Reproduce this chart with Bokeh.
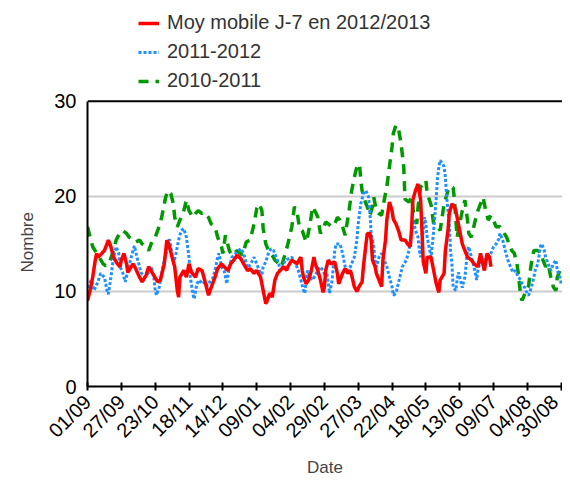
from bokeh.plotting import figure
from bokeh.models import FixedTicker, Legend, LegendItem, Span, Title
from bokeh.embed import file_html
from bokeh.resources import INLINE
import math

# x = days since 01/09
tick_days = [0, 26, 52, 78, 104, 130, 156, 182, 208, 234, 260, 286, 312, 338, 364]
tick_labels = ["01/09", "27/09", "23/10", "18/11", "14/12", "09/01", "04/02", "29/02",
               "27/03", "22/04", "18/05", "13/06", "09/07", "04/08", "30/08"]

red_days = [0, 2, 4, 6, 7, 8, 11, 13, 16, 18, 20, 23, 25, 26, 28, 30, 31, 35, 37, 40,
            42, 45, 47, 50, 54, 56, 59, 61, 63, 65, 67, 69, 70, 71, 74, 76, 78, 80, 83, 85,
            88, 90, 93, 95, 98, 100, 103, 105, 108, 110, 113, 115, 118, 120, 123, 125, 128, 130, 133, 135,
            137, 138, 140, 142, 144, 146, 148, 151, 153, 154, 157, 159, 161, 163, 164, 165, 166, 168, 170, 172,
            174, 175, 177, 179, 181, 182, 183, 185, 187, 190, 192, 193, 196, 198, 200, 202, 203, 205, 207, 209,
            211, 212, 214, 215, 217, 218, 219, 221, 222, 224, 226, 227, 229, 230, 232, 234, 235, 237, 239, 241,
            244, 246, 248, 249, 250, 252, 254, 256, 257, 258, 260, 261, 264, 266, 268, 270, 271, 274, 275, 277,
            278, 280, 282, 283, 285, 287, 288, 290, 292, 295, 297, 300, 302, 303, 305, 307, 309, 310]
red_vals = [9.0, 10.1, 11.5, 13.3, 14.0, 13.6, 14.0, 14.3, 15.4, 14.7, 13.6, 12.9, 12.6, 13.3, 14.0, 12.9, 12.0, 12.9, 12.4, 11.5,
            11.0, 11.7, 12.6, 11.9, 11.0, 11.2, 12.9, 15.4, 14.7, 13.6, 12.6, 10.1, 9.4, 11.5, 12.2, 11.5, 12.9, 12.0, 11.5, 12.4,
            12.2, 11.2, 9.6, 10.4, 11.5, 12.4, 12.9, 12.6, 12.2, 12.9, 13.4, 13.8, 13.4, 12.9, 12.2, 12.4, 11.9, 12.2, 11.5, 10.1,
            8.7, 9.0, 9.8, 9.4, 11.2, 11.9, 12.2, 12.6, 12.2, 12.6, 13.3, 13.1, 12.9, 13.4, 13.6, 12.2, 11.5, 10.8, 11.2, 12.2,
            13.6, 12.9, 12.2, 11.2, 9.9, 10.4, 12.2, 13.3, 12.9, 13.1, 11.9, 10.8, 11.9, 12.4, 11.9, 12.2, 11.7, 10.5, 10.0, 10.6,
            11.0, 12.6, 15.0, 16.1, 16.1, 15.4, 13.3, 12.6, 11.9, 11.2, 10.5, 13.3, 15.4, 17.5, 19.4, 18.5, 17.6, 17.1, 16.4, 15.4,
            15.4, 15.0, 14.7, 16.4, 19.6, 20.6, 21.3, 19.6, 16.4, 13.1, 11.9, 13.6, 13.6, 12.2, 10.8, 9.9, 11.2, 11.9, 14.3, 16.4,
            18.2, 19.2, 18.9, 18.5, 17.1, 15.7, 15.0, 14.3, 13.6, 13.3, 12.9, 12.6, 14.0, 13.3, 12.2, 14.0, 13.6, 12.6]

blue_days = [0, 3, 5, 8, 10, 13, 15, 16, 18, 20, 22, 24, 25, 27, 29, 31, 33, 35, 36, 38,
             40, 41, 44, 46, 49, 51, 52, 53, 55, 57, 59, 61, 63, 64, 66, 68, 70, 72, 74, 76,
             78, 79, 81, 82, 84, 86, 88, 90, 92, 94, 96, 98, 100, 101, 103, 105, 107, 109, 111, 114,
             116, 118, 120, 122, 123, 124, 127, 128, 130, 132, 134, 135, 137, 139, 141, 143, 145, 147, 148, 150,
             152, 154, 157, 158, 160, 162, 164, 166, 167, 168, 169, 171, 173, 175, 177, 179, 181, 183, 184, 186,
             188, 190, 191, 194, 196, 198, 200, 202, 205, 207, 208, 210, 212, 214, 216, 217, 218, 220, 221, 222,
             224, 226, 228, 230, 232, 234, 235, 237, 240, 242, 245, 247, 249, 250, 251, 252, 254, 255, 256, 258,
             259, 260, 261, 263, 264, 265, 266, 268, 269, 270, 271, 273, 274, 275, 276, 278, 279, 280, 281, 283,
             284, 285, 286, 288, 289, 290, 292, 293, 295, 297, 298, 299, 300, 302, 303, 305, 307, 308, 310, 312,
             314, 316, 317, 319, 321, 323, 325, 327, 329, 331, 333, 334, 336, 338, 339, 341, 343, 344, 346, 348,
             349, 351, 352, 354, 356, 358, 360, 361, 363, 364]
blue_vals = [10.4, 11.2, 10.1, 11.0, 11.9, 11.5, 10.1, 9.7, 11.5, 13.6, 14.7, 14.0, 12.6, 12.0, 11.0, 12.2, 13.3, 14.3, 14.8, 13.6,
             12.6, 12.0, 11.5, 11.7, 12.6, 11.5, 10.1, 9.6, 10.4, 11.9, 13.3, 14.3, 15.5, 14.7, 12.9, 14.0, 15.4, 16.4, 16.6, 15.7,
             13.6, 11.5, 9.7, 9.2, 10.8, 11.2, 10.8, 11.0, 10.6, 11.0, 11.3, 12.2, 13.6, 14.0, 12.6, 12.2, 10.8, 12.6, 13.6, 14.0,
             14.3, 14.5, 14.0, 12.9, 12.2, 12.6, 13.3, 13.6, 12.9, 12.2, 11.8, 12.6, 13.1, 14.0, 14.5, 14.3, 13.6, 12.9, 12.2, 12.6,
             13.3, 13.4, 13.6, 13.3, 12.9, 12.2, 11.2, 10.1, 9.8, 11.2, 12.2, 11.5, 11.2, 11.7, 12.2, 12.6, 12.2, 11.5, 11.9, 9.8,
             11.2, 14.3, 15.0, 15.0, 14.0, 12.6, 12.2, 12.6, 13.6, 15.4, 17.1, 19.2, 20.3, 20.6, 19.9, 18.2, 16.1, 14.7, 13.3, 12.6,
             13.6, 14.0, 13.3, 12.6, 11.5, 10.5, 9.6, 9.8, 11.5, 12.6, 13.3, 14.3, 16.4, 17.5, 17.1, 16.4, 15.7, 14.3, 13.6, 16.4,
             17.8, 17.1, 15.7, 14.3, 13.6, 15.0, 16.4, 19.9, 22.0, 23.1, 23.8, 23.4, 23.1, 22.0, 19.9, 17.1, 14.3, 12.9, 10.4, 10.1,
             11.2, 12.0, 11.5, 10.4, 11.0, 11.5, 14.3, 14.7, 13.6, 12.6, 11.9, 11.2, 12.2, 13.3, 12.9, 13.6, 13.3, 13.6, 14.0, 14.7,
             15.0, 15.5, 16.1, 15.4, 14.3, 13.3, 12.6, 12.0, 12.2, 11.5, 11.2, 10.8, 10.4, 9.7, 9.6, 10.4, 11.5, 12.2, 12.9, 14.7,
             15.0, 14.3, 13.6, 12.9, 12.2, 12.9, 13.3, 12.2, 11.5, 10.8]

green_days = [0, 2, 4, 7, 9, 12, 14, 17, 20, 22, 25, 27, 30, 32, 35, 37, 40, 42, 45, 47,
              50, 52, 55, 57, 60, 62, 64, 66, 67, 69, 71, 74, 76, 78, 81, 83, 85, 88, 90, 93,
              95, 98, 100, 103, 104, 106, 109, 111, 115, 119, 122, 125, 128, 130, 132, 134, 135, 137, 139, 142,
              144, 147, 149, 152, 154, 157, 159, 161, 163, 165, 168, 169, 171, 173, 175, 177, 179, 181, 183, 186,
              188, 190, 192, 194, 196, 198, 199, 201, 203, 205, 207, 209, 210, 211, 213, 215, 217, 219, 220, 222,
              224, 226, 228, 230, 232, 234, 235, 237, 239, 241, 243, 244, 247, 249, 251, 253, 254, 256, 258, 260,
              261, 264, 266, 269, 271, 274, 277, 279, 281, 282, 284, 286, 288, 290, 292, 293, 295, 298, 300, 302,
              304, 306, 308, 310, 312, 314, 317, 319, 322, 324, 326, 328, 330, 331, 333, 334, 337, 339, 340, 341,
              343, 346, 348, 350, 352, 354, 356, 358, 360, 361, 363]
green_vals = [16.8, 15.7, 14.7, 14.0, 13.6, 12.9, 12.7, 13.1, 14.3, 15.4, 16.2, 16.4, 16.1, 15.7, 15.5, 15.2, 15.4, 15.0, 14.7, 14.3,
              15.4, 15.7, 16.8, 17.8, 19.9, 20.6, 20.3, 19.2, 17.8, 16.8, 17.5, 18.5, 19.6, 18.5, 17.8, 18.2, 18.5, 18.2, 18.3, 17.8,
              17.1, 16.8, 15.7, 14.7, 14.0, 15.9, 14.3, 13.8, 14.3, 13.8, 15.2, 15.4, 17.1, 18.7, 19.2, 18.5, 16.6, 15.0, 14.3, 13.8,
              13.3, 12.9, 12.6, 14.0, 15.0, 16.8, 18.9, 18.4, 16.6, 16.4, 15.2, 15.7, 17.1, 18.9, 18.4, 17.8, 16.1, 16.6, 17.3, 17.0,
              16.8, 17.1, 17.8, 17.5, 16.8, 15.9, 16.8, 18.5, 20.6, 22.0, 23.1, 23.4, 21.7, 20.6, 19.6, 18.9, 18.0, 18.9, 19.9, 18.5,
              18.2, 18.0, 19.6, 21.0, 23.1, 25.2, 26.6, 27.5, 27.1, 25.5, 23.1, 19.7, 19.4, 19.9, 17.8, 17.1, 18.9, 21.0, 21.3, 21.7,
              20.3, 19.1, 17.1, 16.8, 16.4, 19.2, 20.6, 21.1, 20.9, 19.6, 15.7, 17.1, 18.5, 19.6, 17.5, 16.1, 15.7, 17.5, 18.5, 19.2,
              19.9, 18.5, 17.5, 18.0, 17.5, 16.8, 16.8, 16.4, 15.7, 15.0, 14.3, 14.0, 12.9, 11.9, 9.4, 9.05, 10.1, 10.6, 11.9, 12.9,
              14.3, 14.3, 14.1, 13.3, 12.6, 12.9, 11.5, 10.45, 10.1, 11.5, 12.2]

y_ticks = [0, 10, 20, 30]
y_max = 30
series_labels = ["Moy mobile J-7 en 2012/2013", "2011-2012", "2010-2011"]

FONT = "Liberation Sans"

# frame spans from the top of the canvas to the x axis; the 0-30 scale occupies
# its lower part, leaving the upper part for the legend
p = figure(width=562, height=480, x_range=(0, 365), y_range=(0, 40.6),
           output_backend="svg", toolbar_location=None, title=None,
           min_border_left=86, min_border_right=0, min_border_top=0, min_border_bottom=94,
           background_fill_color="white", border_fill_color="white")
p.outline_line_color = None

g = p.line(green_days, green_vals, line_color="#009900", line_width=3.5, line_dash="10 7")
b = p.line(blue_days, blue_vals, line_color="#1e90ff", line_width=3, line_dash="3 2")
r = p.line(red_days, red_vals, line_color="#ff0000", line_width=3.5)

# axes
xa = p.xaxis[0]
xa.ticker = FixedTicker(ticks=tick_days)
xa.major_label_overrides = {d: l for d, l in zip(tick_days, tick_labels)}
xa.major_label_orientation = math.pi / 4
xa.minor_tick_line_color = None
xa.major_tick_in = 4
xa.major_tick_out = 4
xa.major_tick_line_color = "black"
xa.major_tick_line_width = 2
xa.axis_line_color = "black"
xa.axis_line_width = 2
xa.major_label_text_font = FONT
xa.major_label_text_font_size = "20px"
xa.major_label_text_color = "black"
xa.major_label_standoff = 8
xa.axis_label = "Date"
xa.axis_label_text_font = FONT
xa.axis_label_text_font_size = "17px"
xa.axis_label_text_font_style = "normal"
xa.axis_label_text_color = "#444444"
xa.axis_label_standoff = 6

ya = p.yaxis[0]
ya.ticker = FixedTicker(ticks=y_ticks)
ya.bounds = (0, y_max)
ya.minor_tick_line_color = None
ya.major_tick_in = 0
ya.major_tick_out = 0
ya.axis_line_color = "black"
ya.axis_line_width = 2
ya.major_label_text_font = FONT
ya.major_label_text_font_size = "20px"
ya.major_label_text_color = "black"
ya.major_label_standoff = 11

# y axis title, centred on the 0-30 part of the axis
ytitle = Title(text="Nombre", align="left", offset=114, standoff=30,
               text_font=FONT, text_font_size="17px", text_font_style="normal",
               text_color="#444444")
p.add_layout(ytitle, "left")

p.add_layout(Span(location=y_max, dimension="width", line_color="black", line_width=2))

p.xgrid.visible = False
p.ygrid.ticker = FixedTicker(ticks=[10, 20])
p.ygrid.grid_line_color = "#cccccc"
p.ygrid.grid_line_width = 2

legend = Legend(items=[LegendItem(label=series_labels[0], renderers=[r]),
                       LegendItem(label=series_labels[1], renderers=[b]),
                       LegendItem(label=series_labels[2], renderers=[g])],
                location=(51, 294), margin=0, padding=0, spacing=6,
                glyph_width=21, glyph_height=22, label_height=22, label_standoff=8,
                label_text_font=FONT, label_text_font_size="20px", label_text_color="#333333",
                border_line_color=None, background_fill_alpha=0)
p.add_layout(legend)

open("out.html", "w").write(file_html(p, INLINE))
